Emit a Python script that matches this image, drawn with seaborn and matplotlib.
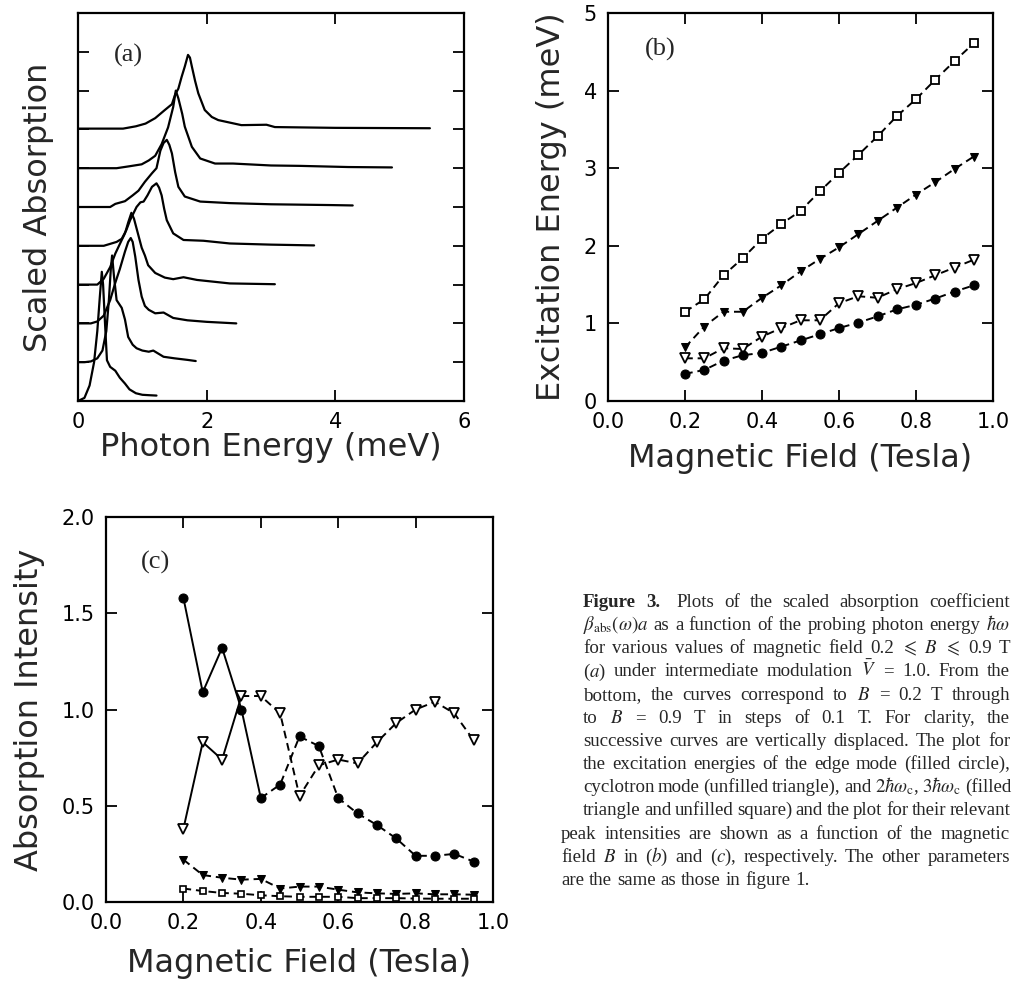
import numpy as np
import matplotlib
matplotlib.use("Agg")
import matplotlib.pyplot as plt
import seaborn as sns

# ---------------------------------------------------------------- data
# panel (a): scaled absorption spectra, B = 0.2 ... 0.9 T (already displaced)
spec_x = [
    [0, 0.1, 0.18, 0.25, 0.3, 0.34, 0.37, 0.39, 0.42, 0.45, 0.5, 0.58, 0.65, 0.73, 0.8, 0.9, 1.0, 1.1, 1.22],
    [0, 0.1, 0.2, 0.3, 0.38, 0.44, 0.48, 0.51, 0.53, 0.56, 0.6, 0.68, 0.73, 0.78, 0.85, 0.91, 1.0, 1.1,
     1.17, 1.25, 1.33, 1.5, 1.7, 1.83],
    [0, 0.2, 0.3, 0.4, 0.5, 0.58, 0.65, 0.73, 0.78, 0.82, 0.85, 0.89, 0.94, 0.99, 1.04, 1.1, 1.2, 1.33,
     1.48, 1.7, 2.0, 2.46],
    [0, 0.3, 0.4, 0.5, 0.58, 0.68, 0.73, 0.78, 0.83, 0.87, 0.91, 0.99, 1.04, 1.09, 1.2, 1.35, 1.48, 1.64,
     1.85, 2.36, 3.06],
    [0, 0.4, 0.5, 0.6, 0.68, 0.75, 0.81, 0.91, 0.97, 1.02, 1.08, 1.15, 1.22, 1.26, 1.3, 1.34, 1.38, 1.48,
     1.64, 1.95, 2.36, 3.0, 3.67],
    [0, 0.5, 0.58, 0.73, 0.85, 0.94, 1.04, 1.15, 1.22, 1.28, 1.33, 1.38, 1.42, 1.46, 1.51, 1.56, 1.66,
     1.9, 2.36, 3.0, 3.92, 4.27],
    [0, 0.6, 0.8, 0.99, 1.1, 1.2, 1.3, 1.4, 1.48, 1.52, 1.56, 1.62, 1.66, 1.77, 1.9, 2.13, 2.41, 3.0,
     3.45, 4.2, 4.88],
    [0, 0.7, 0.9, 1.05, 1.2, 1.35, 1.46, 1.51, 1.56, 1.61, 1.66, 1.71, 1.74, 1.77, 1.82, 1.87, 1.97,
     2.08, 2.18, 2.54, 2.93, 3.06, 4.0, 5.47],
]
spec_y = [
    [0, 0.08, 0.4, 1.0, 1.8, 2.7, 3.33, 3.0, 2.0, 1.05, 0.88, 0.78, 0.6, 0.45, 0.3, 0.2, 0.16, 0.15, 0.14],
    [1.0, 1.0, 1.02, 1.1, 1.3, 1.8, 2.6, 3.4, 3.75, 3.2, 2.6, 2.4, 2.1, 1.65, 1.45, 1.36, 1.3, 1.27,
     1.3, 1.22, 1.14, 1.1, 1.06, 1.03],
    [2.0, 2.0, 2.05, 2.2, 2.6, 3.05, 3.4, 3.85, 4.1, 4.2, 4.1, 3.72, 3.12, 2.69, 2.45, 2.35, 2.26, 2.28,
     2.14, 2.08, 2.04, 2.0],
    [3.0, 3.0, 3.15, 3.45, 3.8, 4.15, 4.32, 4.6, 4.85, 4.7, 4.45, 3.95, 3.75, 3.5, 3.3, 3.18, 3.14, 3.19,
     3.12, 3.03, 3.01],
    [4.0, 4.0, 4.05, 4.1, 4.18, 4.4, 4.66, 5.0, 5.12, 5.14, 5.3, 5.52, 5.61, 5.5, 5.3, 4.95, 4.66, 4.32,
     4.15, 4.13, 4.06, 4.03, 4.01],
    [5.0, 5.0, 5.08, 5.15, 5.3, 5.42, 5.65, 5.87, 6.0, 6.45, 6.65, 6.73, 6.6, 6.38, 5.9, 5.52, 5.27,
     5.14, 5.1, 5.07, 5.05, 5.04],
    [6.0, 6.0, 6.05, 6.1, 6.2, 6.32, 6.62, 7.05, 7.58, 8.0, 7.8, 7.4, 7.07, 6.55, 6.25, 6.12, 6.12, 6.07,
     6.06, 6.03, 6.02],
    [7.02, 7.02, 7.08, 7.15, 7.29, 7.5, 7.65, 7.9, 8.05, 8.35, 8.62, 8.92, 8.85, 8.62, 8.25, 7.93, 7.5,
     7.32, 7.24, 7.11, 7.12, 7.06, 7.04, 7.03],
]

# panels (b) and (c): magnetic field
field = [0.2, 0.25, 0.3, 0.35, 0.4, 0.45, 0.5, 0.55, 0.6, 0.65, 0.7, 0.75, 0.8, 0.85, 0.9, 0.95]

energy_edge = [0.35, 0.40, 0.52, 0.59, 0.62, 0.70, 0.78, 0.86, 0.94, 1.01, 1.09, 1.18, 1.24, 1.32, 1.41, 1.49]
energy_cyc = [0.55, 0.55, 0.68, 0.67, 0.83, 0.94, 1.04, 1.04, 1.26, 1.35, 1.33, 1.44, 1.52, 1.62, 1.72, 1.82]
energy_2wc = [0.69, 0.96, 1.15, 1.15, 1.33, 1.49, 1.67, 1.83, 1.98, 2.15, 2.32, 2.49, 2.66, 2.82, 2.99, 3.15]
energy_3wc = [1.15, 1.31, 1.62, 1.84, 2.09, 2.28, 2.45, 2.70, 2.94, 3.17, 3.41, 3.67, 3.89, 4.14, 4.38, 4.61]

inten_edge = [1.58, 1.09, 1.32, 1.00, 0.54, 0.61, 0.86, 0.81, 0.54, 0.46, 0.40, 0.33, 0.24, 0.24, 0.25, 0.21]
inten_cyc = [0.38, 0.83, 0.74, 1.07, 1.07, 0.98, 0.55, 0.71, 0.74, 0.72, 0.83, 0.93, 1.00, 1.04, 0.98, 0.84]
inten_2wc = [0.22, 0.14, 0.126, 0.116, 0.12, 0.07, 0.08, 0.08, 0.064, 0.05, 0.045, 0.042, 0.045, 0.04, 0.04, 0.038]
inten_3wc = [0.07, 0.057, 0.047, 0.043, 0.035, 0.03, 0.027, 0.027, 0.027, 0.02, 0.02, 0.02, 0.018, 0.017, 0.017, 0.017]

caption = [
    ["Figure", "3.", "Plots", "of", "the", "scaled", "absorption", "coefficient"],
    [r"$\beta_{\rm abs}(\omega)a$", "as", "a", "function", "of", "the", "probing", "photon", "energy",
     r"$\hbar\omega$"],
    ["for", "various", "values", "of", "magnetic", "field", "0.2", r"$\leqslant$", r"$B$", r"$\leqslant$",
     "0.9", "T"],
    [r"($a$)", "under", "intermediate", "modulation", r"$\bar{V}$", "=", "1.0.", "From", "the"],
    ["bottom,", "the", "curves", "correspond", "to", r"$B$", "=", "0.2", "T", "through"],
    ["to", r"$B$", "=", "0.9", "T", "in", "steps", "of", "0.1", "T.", "For", "clarity,", "the"],
    ["successive", "curves", "are", "vertically", "displaced.", "The", "plot", "for"],
    ["the", "excitation", "energies", "of", "the", "edge", "mode", "(filled", "circle),"],
    ["cyclotron", "mode", "(unfilled", "triangle),", "and", r"$2\hbar\omega_{\rm c}$,",
     r"$3\hbar\omega_{\rm c}$", "(filled"],
    ["triangle", "and", "unfilled", "square)", "and", "the", "plot", "for", "their", "relevant"],
    ["peak", "intensities", "are", "shown", "as", "a", "function", "of", "the", "magnetic"],
    ["field", r"$B$", "in", r"($b$)", "and", r"($c$),", "respectively.", "The", "other", "parameters"],
    ["are", "the", "same", "as", "those", "in", "figure", "1."],
]

# ---------------------------------------------------------------- style
sns.set_style("ticks")
plt.rcParams["font.family"] = ["DejaVu Sans"]
plt.rcParams["mathtext.fontset"] = "stix"

W, H = 1019, 988
fig = plt.figure(figsize=(W / 100, H / 100), dpi=100)

LABEL_FS = 23
TICK_FS = 15


def px_axes(left, top, right, bottom):
    return fig.add_axes([left / W, 1 - bottom / H, (right - left) / W, (bottom - top) / H])


def frame(ax):
    for s in ax.spines.values():
        s.set_linewidth(1.6)
        s.set_color("k")
    ax.tick_params(direction="in", length=8, width=1.3, top=True, right=True,
                   labelsize=TICK_FS, pad=8, colors="k")


ls_dash = (0, (4, 2.5))

# ---------------------------------------------------------------- (a)
ax_a = px_axes(78, 13, 464, 401)
for xs, ys in zip(spec_x, spec_y):
    sns.lineplot(x=xs, y=ys, ax=ax_a, color="k", lw=1.6, sort=False, estimator=None)
ax_a.set_xlim(0, 6)
ax_a.set_ylim(0, 10)
ax_a.set_xticks([0, 2, 4, 6])
ax_a.set_yticks(range(1, 10))
frame(ax_a)
ax_a.tick_params(axis="y", labelleft=False)
ax_a.set_xlabel("Photon Energy (meV)", fontsize=LABEL_FS, labelpad=0)
ax_a.set_ylabel("Scaled Absorption", fontsize=LABEL_FS, labelpad=17)
ax_a.text(0.13, 0.89, "(a)", transform=ax_a.transAxes, fontsize=19,
          family="Liberation Serif", ha="center", va="center")

# ---------------------------------------------------------------- (b)
ax_b = px_axes(608, 13, 993, 401)
sns.lineplot(x=field, y=energy_3wc, ax=ax_b, color="k", lw=1.4, ls=ls_dash, marker="s",
             ms=5.5, mfc="white", mec="k", mew=1.3)
sns.lineplot(x=field, y=energy_2wc, ax=ax_b, color="k", lw=1.4, ls=ls_dash, marker="v",
             ms=5.5, mfc="k", mec="k")
sns.lineplot(x=field, y=energy_cyc, ax=ax_b, color="k", lw=1.4, ls=ls_dash, marker="v",
             ms=7, mfc="white", mec="k", mew=1.3)
sns.lineplot(x=field, y=energy_edge, ax=ax_b, color="k", lw=1.4, ls=ls_dash, marker="o",
             ms=6.5, mfc="k", mec="k")
ax_b.set_xlim(0, 1)
ax_b.set_ylim(0, 5)
ax_b.set_xticks(np.arange(0, 1.01, 0.2))
ax_b.set_xticklabels([f"{v:.1f}" for v in np.arange(0, 1.01, 0.2)])
ax_b.set_yticks(range(0, 6))
frame(ax_b)
ax_b.set_xlabel("Magnetic Field (Tesla)", fontsize=LABEL_FS, labelpad=8)
ax_b.set_ylabel("Excitation Energy (meV)", fontsize=LABEL_FS, labelpad=12)
ax_b.text(0.135, 0.905, "(b)", transform=ax_b.transAxes, fontsize=19,
          family="Liberation Serif", ha="center", va="center")

# ---------------------------------------------------------------- (c)
ax_c = px_axes(106, 517, 493, 902)
n_solid = 5
sns.lineplot(x=field[:n_solid], y=inten_edge[:n_solid], ax=ax_c, color="k", lw=1.4)
sns.lineplot(x=field[n_solid - 1:], y=inten_edge[n_solid - 1:], ax=ax_c, color="k", lw=1.4, ls=ls_dash)
sns.lineplot(x=field, y=inten_edge, ax=ax_c, color="k", lw=0, marker="o", ms=6.5, mfc="k", mec="k")
sns.lineplot(x=field[:4], y=inten_cyc[:4], ax=ax_c, color="k", lw=1.4)
sns.lineplot(x=field[3:], y=inten_cyc[3:], ax=ax_c, color="k", lw=1.4, ls=ls_dash)
sns.lineplot(x=field, y=inten_cyc, ax=ax_c, color="k", lw=0, marker="v", ms=7,
             mfc="white", mec="k", mew=1.3)
sns.lineplot(x=field, y=inten_2wc, ax=ax_c, color="k", lw=1.4, ls=ls_dash, marker="v",
             ms=5.5, mfc="k", mec="k")
sns.lineplot(x=field, y=inten_3wc, ax=ax_c, color="k", lw=1.4, ls=ls_dash, marker="s",
             ms=5, mfc="white", mec="k", mew=1.2)
ax_c.set_xlim(0, 1)
ax_c.set_ylim(0, 2)
ax_c.set_xticks(np.arange(0, 1.01, 0.2))
ax_c.set_xticklabels([f"{v:.1f}" for v in np.arange(0, 1.01, 0.2)])
ax_c.set_yticks(np.arange(0, 2.01, 0.5))
ax_c.set_yticklabels([f"{v:.1f}" for v in np.arange(0, 2.01, 0.5)])
frame(ax_c)
ax_c.set_xlabel("Magnetic Field (Tesla)", fontsize=LABEL_FS, labelpad=11)
ax_c.set_ylabel("Absorption Intensity", fontsize=LABEL_FS, labelpad=12)
ax_c.text(0.127, 0.882, "(c)", transform=ax_c.transAxes, fontsize=19,
          family="Liberation Serif", ha="center", va="center")

# ---------------------------------------------------------------- caption (justified)
fig.canvas.draw()
renderer = fig.canvas.get_renderer()
cap_fs = 13.6
line_gap = 23.15
for i, words in enumerate(caption):
    x0 = 583 if i < 10 else 561
    x1 = 1010
    ybase = 607 + i * line_gap
    texts = []
    for j, w in enumerate(words):
        bold = (i == 0 and j < 2)
        t = fig.text(0, 1 - ybase / H, w, fontsize=cap_fs, family="Liberation Serif",
                     fontweight="bold" if bold else "normal", va="baseline", ha="left")
        texts.append(t)
    widths = [t.get_window_extent(renderer).width for t in texts]
    if i == len(caption) - 1:
        gap = 5.0
    else:
        extra = 6 if i == 0 else 0
        gap = max(3.5, (x1 - x0 - sum(widths) - extra) / (len(words) - 1))
    x = x0
    for j, (t, wd) in enumerate(zip(texts, widths)):
        t.set_x(x / W)
        x += wd + gap + (6 if (i == 0 and j == 1) else 0)

fig.savefig("out.png", dpi=100)
